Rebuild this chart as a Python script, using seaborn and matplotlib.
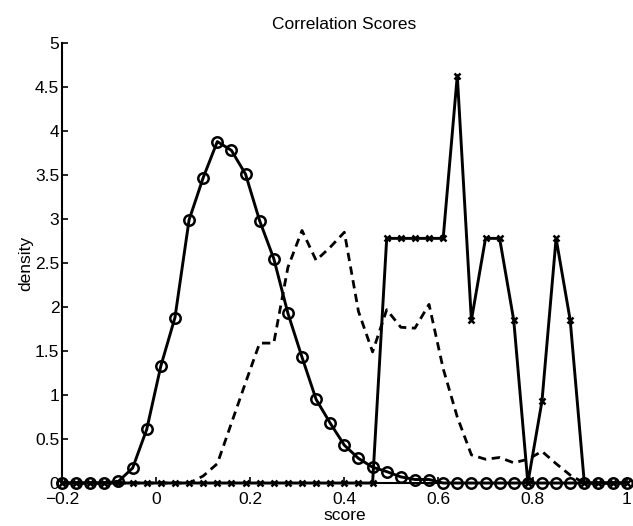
import matplotlib
matplotlib.use("Agg")
import matplotlib.pyplot as plt
import seaborn as sns
import pandas as pd

score = [-0.2, -0.17, -0.14, -0.11, -0.08, -0.05, -0.02, 0.01, 0.04, 0.07,
         0.10, 0.13, 0.16, 0.19, 0.22, 0.25, 0.28, 0.31, 0.34, 0.37,
         0.40, 0.43, 0.46, 0.49, 0.52, 0.55, 0.58, 0.61, 0.64, 0.67,
         0.70, 0.73, 0.76, 0.79, 0.82, 0.85, 0.88, 0.91, 0.94, 0.97, 1.00]

circle_density = [0, 0, 0, 0, 0.02, 0.17, 0.61, 1.33, 1.88, 2.99,
                  3.47, 3.88, 3.78, 3.51, 2.98, 2.55, 1.93, 1.43, 0.95, 0.68,
                  0.43, 0.28, 0.18, 0.13, 0.07, 0.04, 0.04, 0, 0, 0,
                  0, 0, 0, 0, 0, 0, 0, 0, 0, 0, 0]

cross_density = [0, 0, 0, 0, 0, 0, 0, 0, 0, 0,
                 0, 0, 0, 0, 0, 0, 0, 0, 0, 0,
                 0, 0, 0, 2.78, 2.78, 2.78, 2.78, 2.78, 4.63, 1.85,
                 2.78, 2.78, 1.85, 0, 0.93, 2.78, 1.85, 0, 0, 0, 0]

dashed_density = [0, 0, 0, 0, 0, 0, 0, 0, 0, 0,
                  0.08, 0.22, 0.68, 1.14, 1.59, 1.59, 2.45, 2.87, 2.53, 2.68,
                  2.85, 1.95, 1.49, 1.97, 1.77, 1.76, 2.03, 1.3, 0.75, 0.32,
                  0.27, 0.29, 0.23, 0.27, 0.36, 0.22, 0.09, 0, 0, 0, 0]

xticks = [-0.2, 0, 0.2, 0.4, 0.6, 0.8, 1]
xticklabels = ["\u22120.2", "0", "0.2", "0.4", "0.6", "0.8", "1"]
yticks = [0, 0.5, 1, 1.5, 2, 2.5, 3, 3.5, 4, 4.5, 5]
yticklabels = ["0", "0.5", "1", "1.5", "2", "2.5", "3", "3.5", "4", "4.5", "5"]

sns.set_theme(style="white")
plt.rcParams["font.family"] = ["Liberation Sans", "DejaVu Sans"]

df = pd.DataFrame({"score": score, "circle": circle_density,
                   "cross": cross_density, "dashed": dashed_density})

fig = plt.figure(figsize=(6.33, 5.26), dpi=100)
ax = fig.add_axes([0.098, 0.0817, 0.892, 0.8365])

sns.lineplot(data=df, x="score", y="dashed", ax=ax, color="black",
             linewidth=2.0, linestyle=(0, (3.0, 2.0)), clip_on=False)
sns.lineplot(data=df, x="score", y="cross", ax=ax, color="black",
             linewidth=2.1, marker="x", markersize=5, markeredgewidth=1.8,
             markeredgecolor="black", clip_on=False)
sns.lineplot(data=df, x="score", y="circle", ax=ax, color="black",
             linewidth=2.1, marker="o", markersize=7.5, markeredgewidth=1.8,
             markerfacecolor="none", markeredgecolor="black", clip_on=False)

ax.set_xlim(-0.2, 1)
ax.set_ylim(0, 5)
ax.set_xticks(xticks)
ax.set_xticklabels(xticklabels)
ax.set_yticks(yticks)
ax.set_yticklabels(yticklabels)
ax.tick_params(axis="both", direction="in", length=4, width=1.2, labelsize=12.5,
               colors="black")
ax.tick_params(axis="x", pad=6.5, bottom=True)
ax.tick_params(axis="y", pad=2, left=True)
sns.despine(ax=ax, top=True, right=True)
for s in ["left", "bottom"]:
    ax.spines[s].set_color("black")
    ax.spines[s].set_linewidth(1.5)

ax.set_xlabel("score", fontsize=12.5, labelpad=0.5, color="black")
ax.set_ylabel("density", fontsize=12.5, labelpad=1, color="black")
ax.set_title("Correlation Scores", fontsize=12.5, pad=10, color="black")

fig.savefig("out.png", dpi=100)
